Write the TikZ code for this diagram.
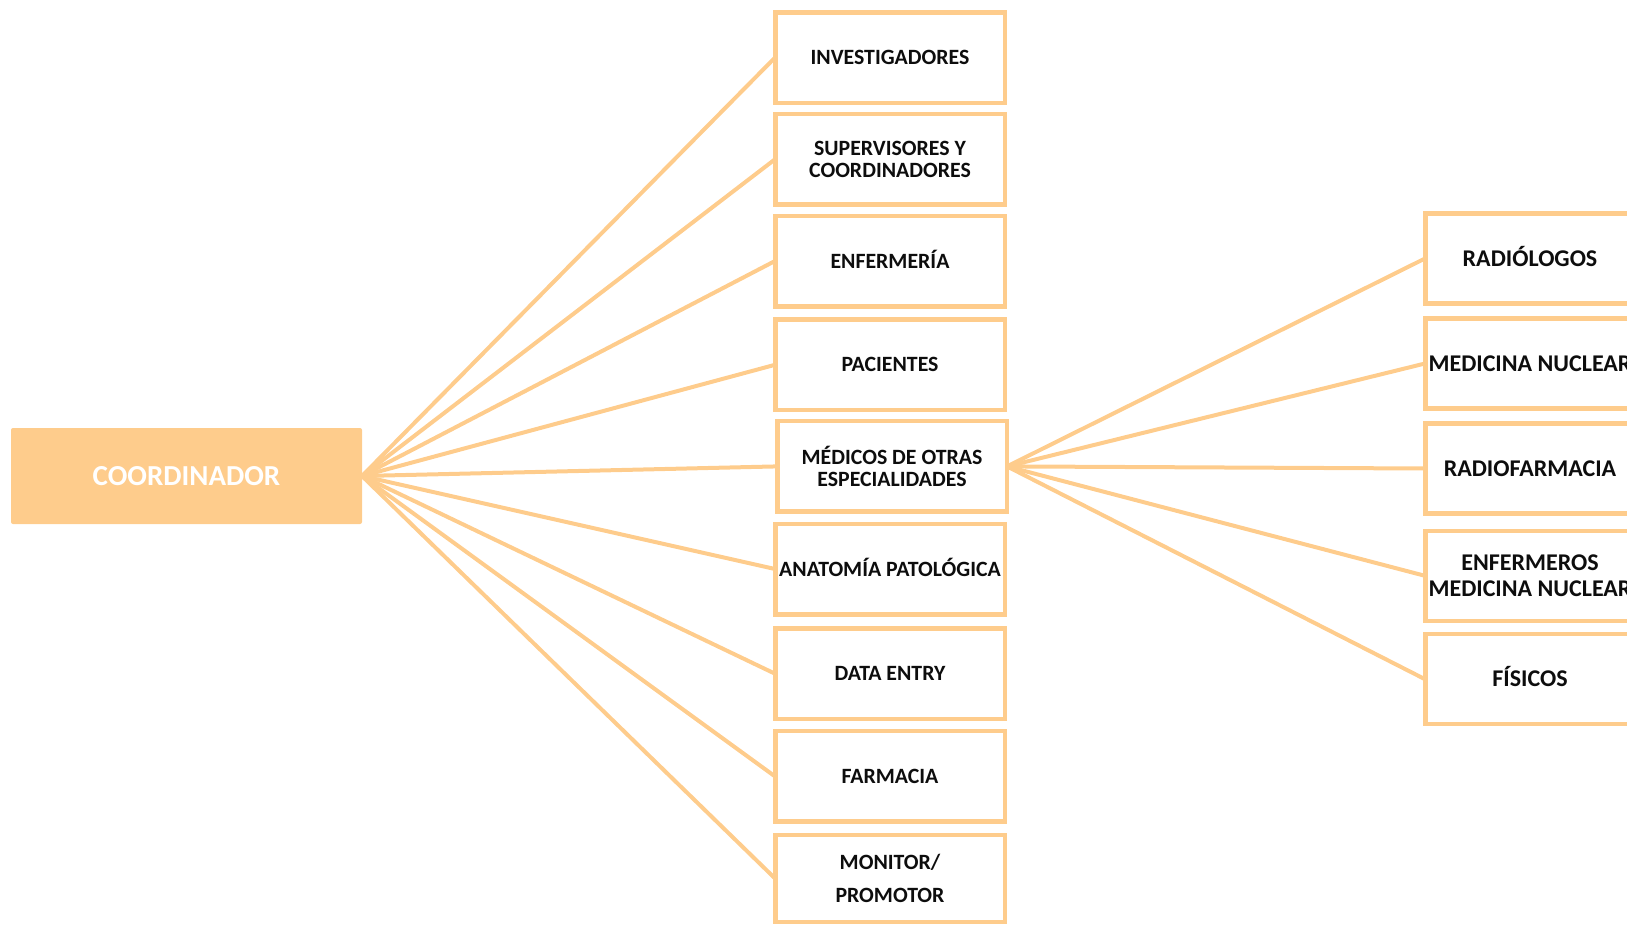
\documentclass[tikz,border=0pt]{standalone}
\usepackage{fontspec}
\setmainfont{Carlito}
\definecolor{peach}{RGB}{254,204,140}
\definecolor{ink}{RGB}{13,13,13}
\begin{document}
\begin{tikzpicture}[x=1pt,y=-1pt,
  midbox/.style={draw=peach,line width=4.5pt,fill=white,minimum width=229.5pt,minimum height=90.5pt,
    inner sep=0pt,align=center,text=ink,font=\fontsize{21.8}{21.7}\selectfont\bfseries},
  rightbox/.style={draw=peach,line width=4.5pt,fill=white,minimum width=209.5pt,minimum height=90pt,
    inner sep=0pt,align=center,text=ink,font=\fontsize{24}{26}\selectfont\bfseries},
  midcap/.style={text height=14pt,text depth=0pt},
  rightcap/.style={text height=15.4pt,text depth=0pt},
  link/.style={draw=peach,line width=4pt}]
\useasboundingbox (0,0) rectangle (1627,924);
\clip (0,0) rectangle (1627,924);
\node[fill=peach,rounded corners=2pt,minimum width=351pt,minimum height=96pt,inner sep=0pt,
  text=white,font=\fontsize{29}{32}\selectfont\bfseries] (coord) at (186.5,476) {COORDINADOR};
% connector end points
\coordinate (cE) at (362,476);
\coordinate (m1) at (775,57.6);
\coordinate (m2) at (775,159.3);
\coordinate (m3) at (775,261);
\coordinate (m4) at (775,364.8);
\coordinate (m5) at (777,466.4);
\coordinate (m6) at (775,569);
\coordinate (m7) at (775,673.7);
\coordinate (m8) at (775,776.4);
\coordinate (m9) at (775,878.4);
\foreach \m in {m1,m2,m3,m4,m5,m6,m7,m8,m9}{\draw[link] (cE) -- (\m);}
\coordinate (mE) at (1007,466.4);
\coordinate (r1) at (1425,258.5);
\coordinate (r2) at (1425,363.5);
\coordinate (r3) at (1425,468.5);
\coordinate (r4) at (1425,575.8);
\coordinate (r5) at (1425,679.2);
\foreach \r in {r1,r2,r3,r4,r5}{\draw[link] (mE) -- (\r);}
% middle column
\node[midbox] (inv) at (890,57.6) {INVESTIGADORES};
\node[midbox] (sup) at (890,159.3) {SUPERVISORES Y\\COORDINADORES};
\node[midbox,midcap] (enf) at (890,261) {ENFERMERÍA};
\node[midbox] (pac) at (890,364.8) {PACIENTES};
\node[midbox] (med) at (892,466.4) {MÉDICOS DE OTRAS\\ESPECIALIDADES};
\node[midbox,midcap] (ana) at (890,569) {ANATOMÍA PATOLÓGICA};
\node[midbox] (dat) at (890,673.7) {DATA ENTRY};
\node[midbox] (far) at (890,776.4) {FARMACIA};
\node[midbox,minimum height=87pt,font=\fontsize{21.8}{32.3}\selectfont\bfseries] (mon) at (890,878.4) {MONITOR/\\PROMOTOR};
% right column
\node[rightbox,rightcap] (rad) at (1530,258.5) {RADIÓLOGOS};
\node[rightbox] (mn) at (1530,363.5) {MEDICINA NUCLEAR};
\node[rightbox] (rf) at (1530,468.5) {RADIOFARMACIA};
\node[rightbox] (enm) at (1530,575.8) {ENFERMEROS\\MEDICINA NUCLEAR};
\node[rightbox,rightcap] (fis) at (1530,679.2) {FÍSICOS};
\end{tikzpicture}
\end{document}
